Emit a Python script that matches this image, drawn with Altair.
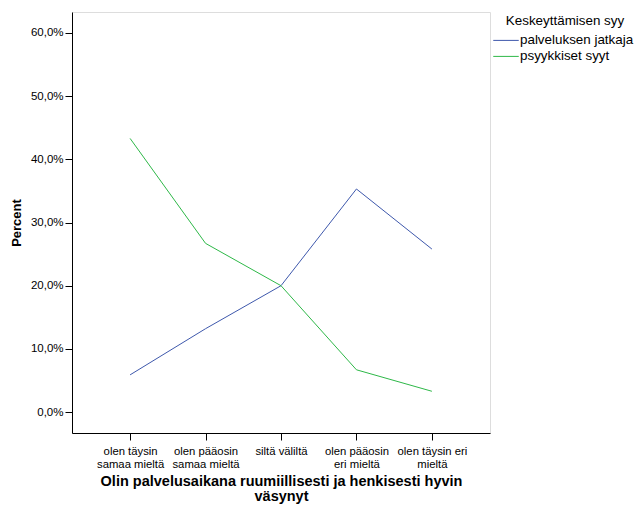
import altair as alt
import pandas as pd

categories = ["olen täysin|samaa mieltä", "olen pääosin|samaa mieltä", "siltä väliltä",
              "olen pääosin|eri mieltä", "olen täysin eri|mieltä"]
series_names = ["palveluksen jatkaja", "psyykkiset syyt"]
blue_values = [5.9, 13.2, 20.0, 35.3, 25.8]
green_values = [43.3, 26.7, 20.0, 6.7, 3.3]
y_ticks = [0, 10, 20, 30, 40, 50, 60]

rows = []
for c, v in zip(categories, blue_values):
    rows.append({"cat": c, "syy": series_names[0], "pct": v})
for c, v in zip(categories, green_values):
    rows.append({"cat": c, "syy": series_names[1], "pct": v})
df = pd.DataFrame(rows)

font = "Liberation Sans"

chart = alt.Chart(df).mark_line(strokeWidth=1).encode(
    x=alt.X("cat:N", sort=categories,
            scale=alt.Scale(type="point", padding=0.77),
            axis=alt.Axis(title=["Olin palvelusaikana ruumiillisesti ja henkisesti hyvin", "väsynyt"],
                          labelAngle=0, labelExpr="split(datum.label, '|')",
                          labelFontSize=11.3, labelLineHeight=13, labelColor="#000",
                          labelPadding=5, tickSize=7, tickColor="#000",
                          domainColor="#000", titleFontSize=14.5, titleFontWeight="bold",
                          titleColor="#000", titlePadding=5, titleLineHeight=15,
                          labelLimit=200)),
    y=alt.Y("pct:Q", scale=alt.Scale(domain=[-3.3, 63.3], nice=False, zero=False),
            axis=alt.Axis(title="Percent", values=y_ticks, grid=False,
                          labelExpr="replace(format(datum.value, '.1f'), '.', ',') + '%'",
                          labelFontSize=11.5, labelColor="#000", tickSize=7, tickColor="#000",
                          labelPadding=2,
                          domainColor="#000", titleFontSize=13, titleFontWeight="bold",
                          titleColor="#000", titlePadding=7)),
    color=alt.Color("syy:N", scale=alt.Scale(domain=series_names, range=["#3e58ac", "#2eb848"]),
                    legend=alt.Legend(title="Keskeyttämisen syy", orient="none",
                                      legendX=425, legendY=2,
                                      symbolType="M-1.5,0H1.5",
                                      symbolSize=289, symbolStrokeWidth=1,
                                      labelFontSize=13.4, titleFontSize=13.4,
                                      titleFontWeight="normal", titleColor="#000",
                                      titleAnchor="middle",
                                      labelColor="#000", rowPadding=0, titlePadding=4,
                                      labelOffset=5, titleLimit=300, labelLimit=300)),
).properties(
    width=418, height=421,
    padding={"left": 64, "top": 4, "right": 145, "bottom": 72},
    autosize=alt.AutoSizeParams(type="none"),
).configure_view(
    fill="#f0f0f0", stroke="#555555", strokeWidth=1
).configure(font=font)

chart.save("out.html", embed_options={"renderer": "svg", "actions": False})
